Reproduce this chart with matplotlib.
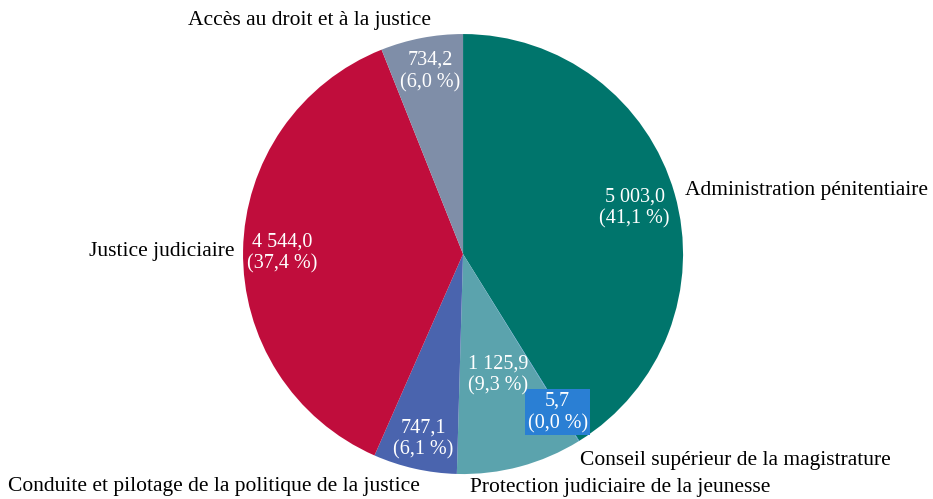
import matplotlib.pyplot as plt

categories = ["Administration pénitentiaire", "Conseil supérieur de la magistrature",
              "Protection judiciaire de la jeunesse", "Conduite et pilotage de la politique de la justice",
              "Justice judiciaire", "Accès au droit et à la justice"]
values = [5003.0, 5.7, 1125.9, 747.1, 4544.0, 734.2]
colors = ["#00756C", "#2A7FD4", "#5BA3AD", "#4A64AE", "#C00D3C", "#7F8EA8"]

# label layout (data coords, pie radius = 1)
value_pos = [(0.78, 0.21), (0.43, -0.72), (0.16, -0.55), (-0.18, -0.84), (-0.82, 0.005), (-0.15, 0.83)]
name_pos = [(1.01, 0.29, "left"), (0.53, -0.94, "left"), (0.03, -1.06, "left"),
            (-2.07, -1.055, "left"), (-1.04, 0.01, "right"), (-0.70, 1.06, "center")]


def fr(v):
    return f"{v:,.1f}".replace(",", " ").replace(".", ",")


plt.rcParams['font.family'] = ['Liberation Serif', 'DejaVu Serif']

fig = plt.figure(figsize=(9.33, 4.99), dpi=100)
ax = fig.add_axes([0.2605, 0.050, 0.4716, 0.8818])
ax.pie(values, colors=colors, startangle=90, counterclock=False, radius=1.0)
ax.set_xlim(-1, 1)
ax.set_ylim(-1, 1)
ax.set_aspect('equal')

total = sum(values)
for i, v in enumerate(values):
    txt = f"{fr(v)}\n({fr(v / total * 100)} %)"
    x, y = value_pos[i]
    box = None
    if categories[i].startswith("Conseil"):
        box = dict(boxstyle="square,pad=0.12", facecolor=colors[i], edgecolor="none")
    ax.text(x, y, txt, ha="center", va="center", color="white", fontsize=14.5,
            linespacing=1.2, bbox=box, clip_on=False)
    nx, ny, ha = name_pos[i]
    ax.text(nx, ny, categories[i], ha=ha, va="center", color="black", fontsize=15.5, clip_on=False)

plt.savefig("out.png", dpi=100)
